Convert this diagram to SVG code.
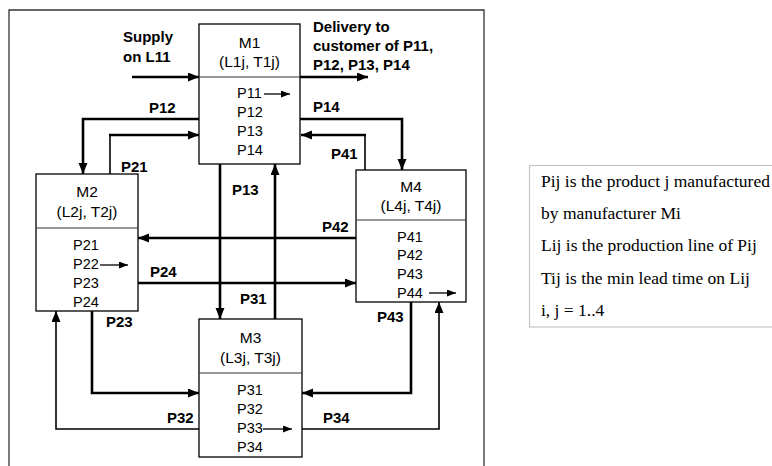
<svg xmlns="http://www.w3.org/2000/svg" width="772" height="466" viewBox="0 0 772 466">
<style>
.box{fill:#fff;stroke:#000;stroke-width:1.3}
.div{stroke:#333;stroke-width:1}
.t{font-family:"Liberation Sans",Arial,sans-serif;font-size:14.5px;fill:#000}
.h{font-family:"Liberation Sans",Arial,sans-serif;font-size:15.5px;fill:#000;text-anchor:middle}
.lb{font-family:"Liberation Sans",Arial,sans-serif;font-size:15px;font-weight:bold;fill:#000}
.thick{fill:none;stroke:#000;stroke-width:2.6}
.thin{fill:none;stroke:#000;stroke-width:1.6}
.sm{fill:none;stroke:#000;stroke-width:1.3}
.lg{font-family:"Liberation Serif","Times New Roman",serif;font-size:17.5px;fill:#000}
</style>
<defs>
<marker id="ah" markerUnits="userSpaceOnUse" markerWidth="12" markerHeight="10" refX="11" refY="4.5" orient="auto">
<path d="M0,0 L11,4.5 L0,9 z" fill="#000"/>
</marker>
<marker id="as" markerUnits="userSpaceOnUse" markerWidth="10" markerHeight="8" refX="9" refY="3.5" orient="auto">
<path d="M0,0 L9,3.5 L0,7 z" fill="#000"/>
</marker>
</defs>
<rect width="772" height="466" fill="#fff"/>
<path d="M9,480 V10 H484 V480" fill="none" stroke="#333" stroke-width="1.3"/>

<g id="legend">
<rect x="529.5" y="165.5" width="260" height="161.5" fill="#fff" stroke="#c4c4c4" stroke-width="1.2"/>
<text class="lg" x="541" y="187">Pij is the product j manufactured</text>
<text class="lg" x="541" y="219">by manufacturer Mi</text>
<text class="lg" x="541" y="251">Lij is the production line of Pij</text>
<text class="lg" x="541" y="284">Tij is the min lead time on Lij</text>
<text class="lg" x="541" y="316">i, j = 1..4</text>
</g>

<g id="connectors">
<line class="thick" x1="132" y1="77" x2="199" y2="77" marker-end="url(#ah)"/>
<line class="thick" x1="300" y1="77" x2="368" y2="77" marker-end="url(#ah)"/>
<path class="thick" d="M201,119 H83 V174" marker-end="url(#ah)"/>
<line class="thin" x1="110" y1="174" x2="110" y2="135"/>
<path class="thick" d="M109,135 H199" marker-end="url(#ah)"/>
<path class="thick" d="M300,119 H402 V170" marker-end="url(#ah)"/>
<line class="thin" x1="365" y1="170" x2="365" y2="135"/>
<path class="thick" d="M366,135 H301" marker-end="url(#ah)"/>
<path class="thick" d="M220,164 V319" marker-end="url(#ah)"/>
<path class="thick" d="M275,319 V164" marker-end="url(#ah)"/>
<path class="thick" d="M356,238 H138" marker-end="url(#ah)"/>
<path class="thick" d="M138,283 H356" marker-end="url(#ah)"/>
<path class="thick" d="M92,311 V393 H199" marker-end="url(#ah)"/>
<path class="thin" d="M199,429 H56 V311" marker-end="url(#ah)"/>
<path class="thick" d="M411,302 V393 H302" marker-end="url(#ah)"/>
<path class="thin" d="M302,429 H439 V302" marker-end="url(#ah)"/>
</g>

<g id="labels">
<text class="lb" x="123" y="42">Supply</text>
<text class="lb" x="123" y="62">on L11</text>
<text class="lb" x="313" y="32">Delivery to</text>
<text class="lb" x="313" y="51">customer of P11,</text>
<text class="lb" x="313" y="70">P12, P13, P14</text>
<text class="lb" x="149" y="113">P12</text>
<text class="lb" x="121" y="172">P21</text>
<text class="lb" x="232" y="195">P13</text>
<text class="lb" x="313" y="112">P14</text>
<text class="lb" x="331" y="159">P41</text>
<text class="lb" x="322" y="232">P42</text>
<text class="lb" x="150" y="277">P24</text>
<text class="lb" x="240" y="304">P31</text>
<text class="lb" x="106" y="327">P23</text>
<text class="lb" x="377" y="322">P43</text>
<text class="lb" x="167" y="423">P32</text>
<text class="lb" x="323" y="423">P34</text>
</g>

<g id="M1">
<rect class="box" x="199" y="24" width="101" height="140"/>
<line class="div" x1="199" y1="77" x2="300" y2="77"/>
<text class="h" x="249.5" y="48">M1</text>
<text class="h" x="249.5" y="67">(L1j, T1j)</text>
<text class="t" x="237" y="98">P11</text>
<text class="t" x="237" y="117">P12</text>
<text class="t" x="237" y="136">P13</text>
<text class="t" x="237" y="155">P14</text>
<line class="sm" x1="264" y1="94" x2="290" y2="94" marker-end="url(#as)"/>
</g>

<g id="M2">
<rect class="box" x="36" y="174" width="102" height="137"/>
<line class="div" x1="36" y1="228" x2="138" y2="228"/>
<text class="h" x="87" y="197">M2</text>
<text class="h" x="87" y="217">(L2j, T2j)</text>
<text class="t" x="73" y="250">P21</text>
<text class="t" x="73" y="269">P22</text>
<text class="t" x="73" y="288">P23</text>
<text class="t" x="73" y="307">P24</text>
<line class="sm" x1="100" y1="265" x2="128" y2="265" marker-end="url(#as)"/>
</g>

<g id="M3">
<rect class="box" x="199" y="319" width="103" height="138"/>
<line class="div" x1="199" y1="373" x2="302" y2="373"/>
<text class="h" x="250.5" y="343">M3</text>
<text class="h" x="250.5" y="363">(L3j, T3j)</text>
<text class="t" x="237" y="395">P31</text>
<text class="t" x="237" y="414">P32</text>
<text class="t" x="237" y="433">P33</text>
<text class="t" x="237" y="452">P34</text>
<line class="sm" x1="263" y1="429" x2="292" y2="429" marker-end="url(#as)"/>
</g>

<g id="M4">
<rect class="box" x="356" y="170" width="110" height="132"/>
<line class="div" x1="356" y1="220" x2="466" y2="220"/>
<text class="h" x="411" y="192">M4</text>
<text class="h" x="411" y="211">(L4j, T4j)</text>
<text class="t" x="397" y="242">P41</text>
<text class="t" x="397" y="260">P42</text>
<text class="t" x="397" y="279">P43</text>
<text class="t" x="397" y="298">P44</text>
<line class="sm" x1="429" y1="293" x2="456" y2="293" marker-end="url(#as)"/>
</g>
</svg>
